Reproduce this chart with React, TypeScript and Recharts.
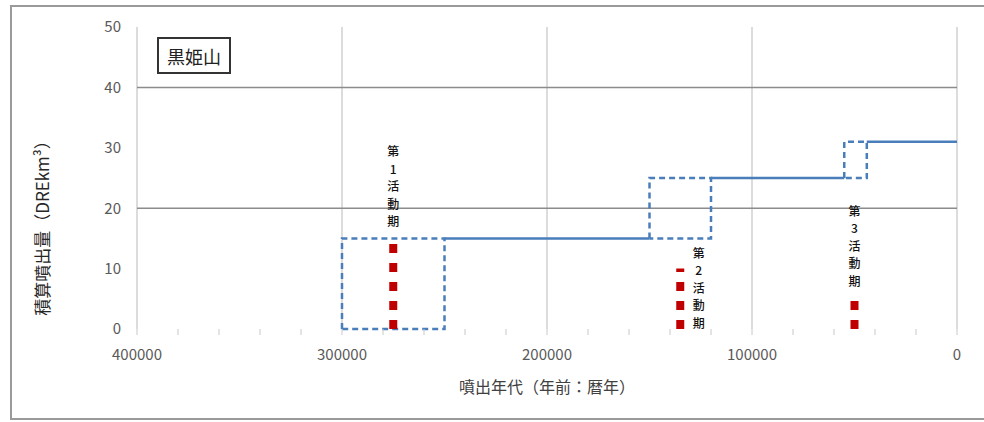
import {
  ComposedChart,
  Line,
  XAxis,
  YAxis,
  ReferenceLine,
  ReferenceDot,
} from 'recharts';

// step line of cumulative volume (pairs: start/end of each solid segment)
const stepYears = [250000, 150000, 120000, 55000, 44000, 0];
const stepVolumes = [15, 15, 25, 25, 31, 31];

// dashed boxes = activity periods
const boxStart = [300000, 150000, 55000];
const boxEnd = [250000, 120000, 44000];
const boxLow = [0, 15, 25];
const boxHigh = [15, 25, 31];

// red dotted markers + vertical labels
const phaseNames = ['第1活動期', '第2活動期', '第3活動期'];
const phaseYears = [275000, 135000, 50000];
const phaseTops = [15, 10, 5];
const labelYears = [275000, 126000, 50000];
const labelTops = [29.5, 12.7, 19.7];

const xTicks = Array.from({ length: 21 }, (_, i) => i * 20000);
const yTicks = [0, 10, 20, 30, 40, 50];
const xGrid = [400000, 300000, 200000, 100000, 0];
const yGrid = [20, 40];

const FONT = '"Noto Sans CJK JP", "Noto Sans", sans-serif';
const BLUE = '#4a7ebb';
const RED = '#c00000';

// build line data with null breaks between segments
const stepData: { t: number; v: number | null }[] = [];
for (let i = 0; i < stepYears.length; i += 2) {
  if (i > 0) stepData.push({ t: stepYears[i - 1], v: null });
  stepData.push({ t: stepYears[i], v: stepVolumes[i] });
  stepData.push({ t: stepYears[i + 1], v: stepVolumes[i + 1] });
}

// each box as a closed outline
const boxData = boxStart.map((s, i) => [
  { t: s, v: boxLow[i] },
  { t: s, v: boxHigh[i] },
  { t: boxEnd[i], v: boxHigh[i] },
  { t: boxEnd[i], v: boxLow[i] },
  { t: s, v: boxLow[i] },
]);

// one character per row, top to bottom
function VerticalLabel({ cx, cy, text }: any) {
  const step = 17.5;
  return (
    <g>
      {text.split('').map((ch: string, i: number) => (
        <text
          key={i}
          x={cx}
          y={cy + i * step}
          textAnchor="middle"
          dominantBaseline="central"
          fontSize={12}
          fontWeight={500}
          fontFamily={FONT}
          fill="#111"
        >
          {ch}
        </text>
      ))}
    </g>
  );
}

export default function App() {
  return (
    <div
      style={{
        position: 'absolute',
        left: 0,
        top: 0,
        width: 984,
        height: 422,
        overflow: 'hidden',
        background: '#fff',
      }}
    >
      <div
        style={{
          position: 'absolute',
          left: 10,
          top: 5,
          width: 990,
          height: 411,
          border: '2px solid #9a9a9a',
        }}
      />
      <ComposedChart
        width={984}
        height={422}
        data={stepData}
        margin={{ top: 27, right: 27, bottom: 0, left: 0 }}
        style={{ position: 'absolute', left: 0, top: 0 }}
      >
        <XAxis
          dataKey="t"
          type="number"
          domain={[0, 400000]}
          reversed
          ticks={xTicks}
          interval={0}
          height={93}
          axisLine={false}
          tickLine={{ stroke: '#c8c8c8' }}
          tickSize={6}
          tickMargin={14}
          tickFormatter={(v: number) => (v % 100000 === 0 ? String(v) : '')}
          tick={{ fontSize: 15, fontFamily: FONT, fill: '#595959' }}
          label={{
            content: ({ viewBox }: any) => (
              <text
                x={viewBox.x + viewBox.width / 2}
                y={viewBox.y + 57}
                textAnchor="middle"
                dominantBaseline="central"
                fontSize={16}
                fontFamily={FONT}
                fill="#404040"
              >
                噴出年代（年前：暦年）
              </text>
            ),
          }}
        />
        <YAxis
          type="number"
          domain={[0, 50]}
          ticks={yTicks}
          interval={0}
          width={137}
          axisLine={false}
          tickLine={false}
          tickSize={6}
          tickMargin={10}
          tick={{ fontSize: 15, fontFamily: FONT, fill: '#595959' }}
          label={{
            content: ({ viewBox }: any) => {
              const x = 41;
              const y = viewBox.y + viewBox.height / 2 + 46;
              return (
                <text
                  x={x}
                  y={y}
                  textAnchor="middle"
                  dominantBaseline="central"
                  fontSize={17}
                  fontFamily={FONT}
                  fill="#262626"
                  transform={`rotate(-90, ${x}, ${y})`}
                >
                  積算噴出量（DREkm³）
                </text>
              );
            },
          }}
        />

        {xGrid.map((x) => (
          <ReferenceLine
            key={'gx' + x}
            x={x}
            stroke="#d0d0d0"
            strokeWidth={1.5}
          />
        ))}
        {yGrid.map((y) => (
          <ReferenceLine
            key={'gy' + y}
            y={y}
            stroke="#8c8c8c"
            strokeWidth={1.5}
          />
        ))}

        {boxData.map((d, i) => (
          <Line
            key={'box' + i}
            data={d}
            dataKey="v"
            type="linear"
            stroke={BLUE}
            strokeWidth={2.5}
            strokeDasharray="6 4"
            dot={false}
            activeDot={false}
            isAnimationActive={false}
          />
        ))}

        <Line
          dataKey="v"
          type="linear"
          stroke={BLUE}
          strokeWidth={2.5}
          dot={false}
          activeDot={false}
          connectNulls={false}
          isAnimationActive={false}
        />

        {phaseYears.map((t, i) => (
          <ReferenceLine
            key={'ph' + i}
            segment={[
              { x: t, y: 0 },
              { x: t, y: phaseTops[i] },
            ]}
            stroke={RED}
            strokeWidth={8}
            strokeDasharray="9 10"
          />
        ))}

        {labelYears.map((t, i) => (
          <ReferenceDot
            key={'lb' + i}
            x={t}
            y={labelTops[i]}
            r={0}
            shape={(p: any) => (
              <VerticalLabel cx={p.cx} cy={p.cy} text={phaseNames[i]} />
            )}
          />
        ))}
      </ComposedChart>
      <div
        style={{
          position: 'absolute',
          left: 157,
          top: 37,
          width: 70,
          height: 33,
          border: '2px solid #333',
          display: 'flex',
          alignItems: 'center',
          justifyContent: 'center',
          fontFamily: FONT,
          fontSize: 18,
          color: '#222',
          background: '#fff',
        }}
      >
        黒姫山
      </div>
    </div>
  );
}
